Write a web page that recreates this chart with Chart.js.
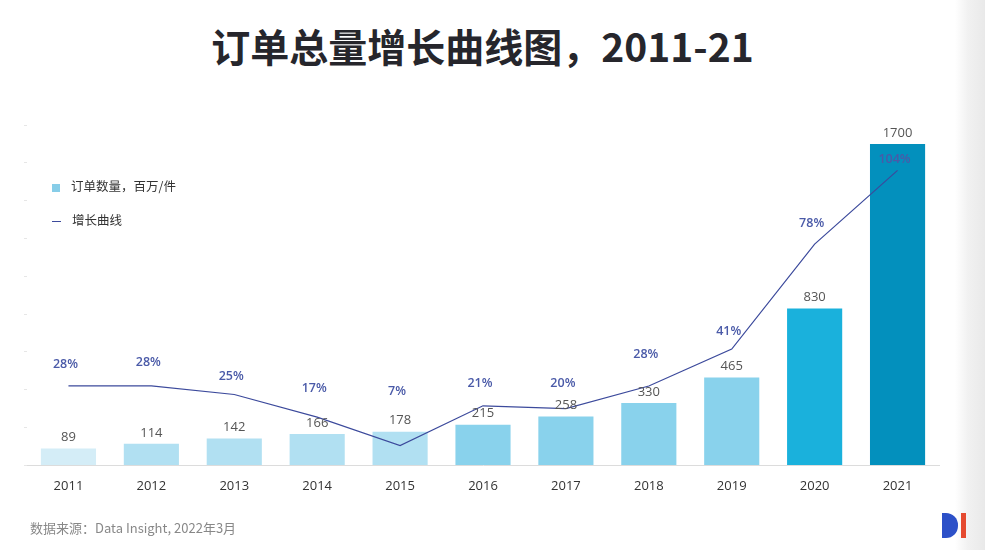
<!DOCTYPE html>
<html>
<head>
<meta charset="utf-8">
<script src="https://cdn.jsdelivr.net/npm/chart.js@4"></script>
<style>
  body { margin: 0; width: 985px; height: 550px; overflow: hidden;
         background: linear-gradient(to right, #fff 0, #fff 955px, #f1f1f1 968px, #e9e9e9 985px);
         font-family: "Noto Sans CJK SC", "Open Sans", sans-serif; }
  #title { position: absolute; left: 0; width: 965px; top: 17px; text-align: center;
           font-size: 39px; font-weight: bold; color: #26262c; }
  #wrap { position: absolute; left: 0; top: 0; width: 955px; height: 550px; }
  .legend { position: absolute; left: 52px; font-size: 12.5px; color: #333; }
  .legend span { display: inline-block; vertical-align: middle; margin-right: 11px; }
  #source { position: absolute; left: 30px; top: 518px; font-size: 13px; color: #888;
            font-family: "Noto Sans CJK SC", sans-serif; letter-spacing: 0px; }
  #logoD { position: absolute; left: 942px; top: 513px; width: 16px; height: 25px;
           background: #2c50c8; border-radius: 0 12px 12px 0; }
  #logoI { position: absolute; left: 961px; top: 513px; width: 5px; height: 25px; background: #e54a30; }
</style>
</head>
<body>
<div id="title">订单总量增长曲线图，2011-21</div>
<div id="wrap"><canvas id="myChart"></canvas></div>
<div class="legend" style="top:176px"><span style="width:8px;height:8px;background:#87cde8"></span>订单数量，百万/件</div>
<div class="legend" style="top:210px"><span style="width:9px;height:1px;background:#3c4a9c"></span>增长曲线</div>
<div id="source">数据来源：Data Insight, 2022年3月</div>
<div id="logoD"></div><div id="logoI"></div>
<script>
// chart data
const years = ['2011', '2012', '2013', '2014', '2015', '2016', '2017', '2018', '2019', '2020', '2021'];
const orders = [89, 114, 142, 166, 178, 215, 258, 330, 465, 830, 1700];
const growth = [28, 28, 25, 17, 7, 21, 20, 28, 41, 78, 104];

const barColors = ['#d4edf7', '#b1e0f2', '#b1e0f2', '#b1e0f2', '#b1e0f2',
                   '#89d2ec', '#89d2ec', '#89d2ec', '#89d2ec', '#1ab1dc', '#0390bd'];

// how far above its point each growth label sits (px), as placed in the original
const growthLabelShift = [22, 24, 18, 29, 54, 22, 25, 32, 18, 21, 11];

// draws value labels over bars and line points
const valueLabels = {
  id: 'valueLabels',
  afterDatasetsDraw(chart) {
    let ctx = chart.ctx;
    ctx.save();
    ctx.textAlign = 'center';
    ctx.textBaseline = 'middle';

    let bars = chart.getDatasetMeta(0).data;
    ctx.font = '13px "Open Sans", sans-serif';
    ctx.fillStyle = '#555';
    bars.forEach((bar, i) => {
      ctx.fillText(orders[i], bar.x, bar.y - 11);
    });

    let points = chart.getDatasetMeta(1).data;
    ctx.font = '600 12.5px "Open Sans", sans-serif';
    ctx.fillStyle = '#4a5aa8';
    points.forEach((pt, i) => {
      ctx.fillText(growth[i] + '%', pt.x - 3, pt.y - growthLabelShift[i]);
    });
    ctx.restore();
  }
};

let ctx = document.getElementById('myChart').getContext('2d');
let myChart = new Chart(ctx, {
  data: {
    labels: years,
    datasets: [{
      type: 'bar',
      data: orders,
      backgroundColor: barColors,
      barPercentage: 0.665,
      categoryPercentage: 1,
      yAxisID: 'y',
      order: 2
    }, {
      type: 'line',
      data: growth,
      borderColor: '#3c4a9c',
      borderWidth: 1.2,
      pointRadius: 0,
      tension: 0,
      fill: false,
      yAxisID: 'y2',
      order: 1
    }]
  },
  options: {
    responsive: true,
    maintainAspectRatio: false,
    animation: false,
    layout: { padding: { left: 24, right: 16, top: 125, bottom: 51 } },
    plugins: {
      legend: { display: false },
      tooltip: { enabled: false }
    },
    scales: {
      x: {
        grid: { display: false },
        border: { display: true, color: '#dcdcdc', width: 1 },
        ticks: { color: '#333', font: { size: 13, family: '"Open Sans", sans-serif' }, padding: 5 }
      },
      y: {
        min: 0,
        max: 1800,
        ticks: { stepSize: 200, display: false },
        grid: { drawOnChartArea: false, drawTicks: true, tickLength: 3, color: '#e6e6e6' },
        border: { display: false }
      },
      y2: {
        min: 0,
        max: 120,
        display: false
      }
    }
  },
  plugins: [valueLabels]
});
</script>
</body>
</html>
